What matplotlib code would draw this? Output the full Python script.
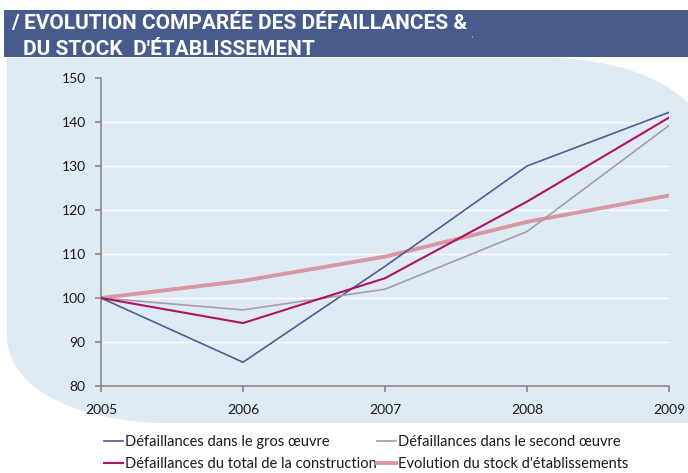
import matplotlib
matplotlib.use("Agg")
import matplotlib.pyplot as plt
from matplotlib.path import Path
from matplotlib.patches import PathPatch, Rectangle

# ---- data ----
years = [2005, 2006, 2007, 2008, 2009]
gros_oeuvre = [100, 85.4, 107.2, 130.0, 142.2]
second_oeuvre = [100, 97.3, 102.0, 115.1, 139.2]
total_construction = [100, 94.3, 104.5, 121.9, 141.0]
stock_etab = [100, 103.9, 109.4, 117.3, 123.3]
series_labels = [
    "Défaillances dans le gros œuvre",
    "Défaillances dans le second œuvre",
    "Défaillances du total de la construction",
    "Evolution du stock d'établissements",
]
yticks = [80, 90, 100, 110, 120, 130, 140, 150]
title_line1 = "/ EVOLUTION COMPARÉE DES DÉFAILLANCES &"
title_line2 = "DU STOCK  D'ÉTABLISSEMENT"

W, H = 688, 473
fig = plt.figure(figsize=(W / 100, H / 100), dpi=100)
fig.patch.set_facecolor("white")

def fx(x):
    return x / W

def fy(y):
    return 1 - y / H

# header bar
fig.add_artist(Rectangle((fx(4), fy(57)), fx(W - 4), 47 / H, transform=fig.transFigure,
                         facecolor="#475c8c", edgecolor="none", zorder=0))

# light blue background shape
pts = [(7, 58), (555, 58), (625, 60), (670, 84), (688, 103), (688, 423), (157, 423),
       (60, 418), (10, 382), (7, 340), (7, 58)]
codes = [Path.MOVETO, Path.LINETO, Path.CURVE4, Path.CURVE4, Path.CURVE4, Path.LINETO,
         Path.LINETO, Path.CURVE4, Path.CURVE4, Path.CURVE4, Path.CLOSEPOLY]
path = Path([(fx(x), fy(y)) for x, y in pts], codes)
fig.add_artist(PathPatch(path, transform=fig.transFigure, facecolor="#deebf5",
                         edgecolor="none", zorder=0))

title_font = ["Liberation Sans Narrow", "Roboto", "DejaVu Sans"]
fig.text(fx(11), fy(29), title_line1, color="white", fontsize=15, family=title_font,
         fontweight="bold", va="baseline", ha="left")
fig.text(fx(23), fy(55), title_line2, color="white", fontsize=15, family=title_font,
         fontweight="bold", va="baseline", ha="left")
fig.text(fx(471), fy(40), "'", color="white", fontsize=4, va="baseline", ha="left")

ax = fig.add_axes([fx(101), fy(386), fx(669 - 101), (386 - 78) / H])
ax.set_facecolor("none")
ax.set_xlim(years[0], years[-1])
ax.set_ylim(yticks[0], yticks[-1])

lab_font = ["Lato", "DejaVu Sans"]
ax.plot(years, gros_oeuvre, color="#4a5e93", lw=1.2, label=series_labels[0], zorder=3)
ax.plot(years, second_oeuvre, color="#a39cb0", lw=1.2, label=series_labels[1], zorder=3)
ax.plot(years, total_construction, color="#b0145e", lw=1.5, label=series_labels[2], zorder=3)
ax.plot(years, stock_etab, color="#d897a2", lw=2.8, label=series_labels[3], zorder=2)

for v in yticks[1:-1]:
    ax.axhline(v, color="white", lw=1.0, zorder=1)

ax.set_xticks(years)
ax.set_xticklabels([str(y) for y in years])
ax.set_yticks(yticks)
for s in ["top", "right"]:
    ax.spines[s].set_visible(False)
for s in ["left", "bottom"]:
    ax.spines[s].set_color("#888888")
    ax.spines[s].set_linewidth(1.2)
ax.tick_params(axis="x", direction="out", length=4, width=1.2, color="#888888", pad=9,
               labelsize=10, labelcolor="#1a1a1a")
ax.tick_params(axis="y", direction="out", length=4, width=1.2, color="#888888", pad=7,
               labelsize=10, labelcolor="#1a1a1a")
for lbl in ax.get_xticklabels() + ax.get_yticklabels():
    lbl.set_family(lab_font)

h, l = ax.get_legend_handles_labels()
order = [0, 2, 1, 3]
leg = fig.legend([h[i] for i in order], [l[i] for i in order], ncol=2, loc="upper left",
                 bbox_to_anchor=(fx(104), fy(435)), frameon=False, borderpad=0,
                 borderaxespad=0, handlelength=1.3, handletextpad=0.15, columnspacing=0.0,
                 labelspacing=0.58, prop={"family": lab_font, "size": 10.5})
for t in leg.get_texts():
    t.set_color("#1a1a1a")

fig.savefig("out.png", dpi=100)
